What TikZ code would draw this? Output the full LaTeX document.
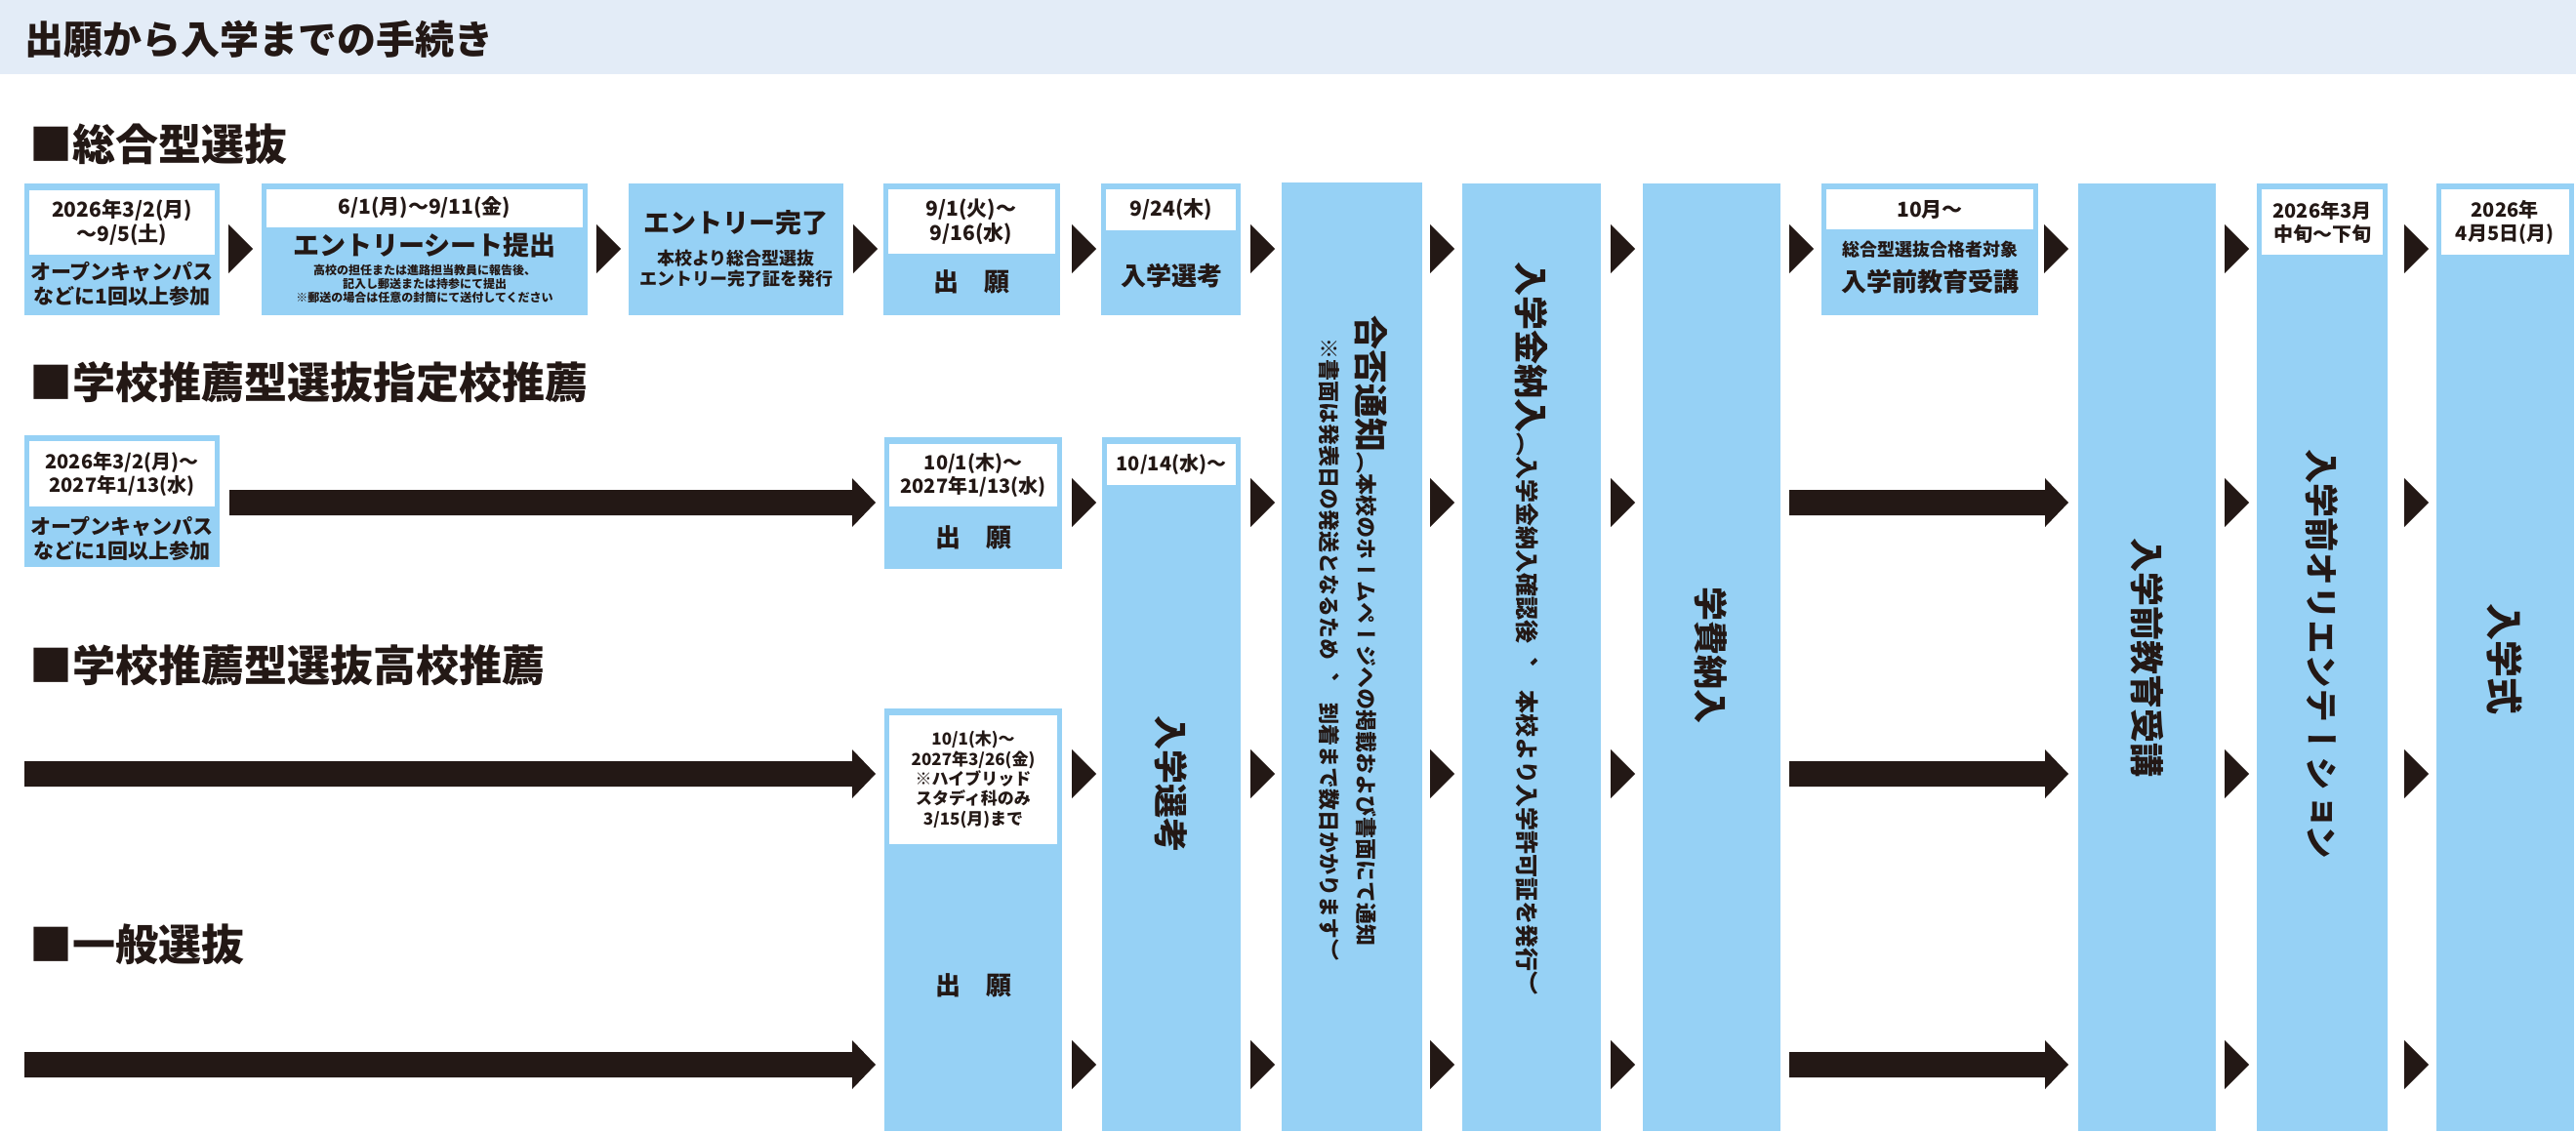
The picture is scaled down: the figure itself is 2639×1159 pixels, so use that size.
\documentclass[tikz,border=0pt]{standalone}
\usepackage{fontspec}
\setmainfont{Noto Sans CJK JP}
\newfontfamily\vjp[Vertical=RotatedGlyphs]{Noto Sans CJK JP}
\definecolor{bl}{HTML}{96D1F5}
\definecolor{dk}{HTML}{231815}
\definecolor{band}{HTML}{E3ECF7}
\newcommand\fs[1]{\fontsize{#1}{\dimexpr#1pt*6/5\relax}\selectfont}
\newcommand\mytri[2]{\fill[dk] (#1,#2-25) -- (#1+25,#2) -- (#1,#2+25) -- cycle;}
\newcommand\myarr[4]{\fill[dk] (#1,#4-13) -- (#2,#4-13) -- (#2,#4-25) -- (#3,#4) -- (#2,#4+25) -- (#2,#4+13) -- (#1,#4+13) -- cycle;}
\newcommand\mybox[4]{\fill[bl] (#1,#2) rectangle (#3,#4);}
\newcommand\mywhite[4]{\fill[white] (#1+5,#2) rectangle (#3-5,#4);}
\tikzset{
 t/.style={align=center,inner sep=0pt,font=\bfseries,text=dk},
 v/.style={rotate=-90,anchor=west,inner sep=0pt,font=\vjp\bfseries,text=dk},
 head/.style={anchor=west,inner sep=0pt,font=\fs{44}\bfseries,text=dk}
}
\begin{document}
\begin{tikzpicture}[x=1pt,y=-1pt]
\useasboundingbox (0,0) rectangle (2639,1159);
\fill[band] (0,0) rectangle (2639,76);
\node[anchor=west,inner sep=0pt,font=\fs{40}\bfseries,text=dk] (title) at (25,40) {出願から入学までの手続き};
\node[head] (h1) at (30,148) {■総合型選抜};
\node[head] (h2) at (30,392) {■学校推薦型選抜指定校推薦};
\node[head] (h3) at (30,682) {■学校推薦型選抜高校推薦};
\node[head] (h4) at (30,968) {■一般選抜};
% row1 boxes
\mybox{25}{188}{225}{323}\mywhite{25}{195}{225}{261}
\node[t,font=\fs{21}\bfseries] (r1a) at (125,228) {2026年3/2(月)\\～9/5(土)};
\node[t,font=\fs{21}\bfseries] (r1b) at (125,291) {オープンキャンパス\\などに1回以上参加};
\mybox{268}{188}{602}{323}\mywhite{268}{194}{602}{233}
\node[t,font=\fs{21}\bfseries] (r2a) at (435,213) {6/1(月)～9/11(金)};
\node[t,font=\fs{27}\bfseries] (r2b) at (435,251) {エントリーシート提出};
\node[t,font=\fs{12}\bfseries] (r2c) at (435,291) {高校の担任または進路担当教員に報告後、\\記入し郵送または持参にて提出\\※郵送の場合は任意の封筒にて送付してください};
\mybox{644}{188}{864}{323}
\node[t,font=\fs{27}\bfseries] (r3a) at (754,228) {エントリー完了};
\node[t,font=\fs{18}\bfseries] (r3b) at (754,275) {本校より総合型選抜\\エントリー完了証を発行};
\mybox{905}{188}{1086}{323}\mywhite{905}{194}{1086}{260}
\node[t,font=\fs{21}\bfseries] (r4a) at (995,227) {9/1(火)～\\9/16(水)};
\node[t,font=\fs{26}\bfseries] (r4b) at (995,289) {出　願};
\mybox{1128}{188}{1271}{323}\mywhite{1128}{194}{1271}{236}
\node[t,font=\fs{21}\bfseries] (r5a) at (1200,215) {9/24(木)};
\node[t,font=\fs{26}\bfseries] (r5b) at (1200,283) {入学選考};
\mybox{1866}{188}{2088}{323}\mywhite{1866}{194}{2088}{235}
\node[t,font=\fs{21}\bfseries] (r6a) at (1977,215) {10月～};
\node[t,font=\fs{18}\bfseries] (r6b) at (1977,256) {総合型選抜合格者対象};
\node[t,font=\fs{26}\bfseries] (r6c) at (1977,289) {入学前教育受講};
% columns
\mybox{1313}{187}{1457}{1159}
\mybox{1498}{188}{1640}{1159}
\mybox{1683}{188}{1824}{1159}
\mybox{2129}{188}{2270}{1159}
\mybox{2312}{188}{2446}{1159}\mywhite{2312}{194}{2446}{261}
\mybox{2496}{188}{2637}{1159}\mywhite{2496}{194}{2637}{261}
\node[t,font=\fs{20}\bfseries] (o1) at (2379,228) {2026年3月\\中旬～下旬};
\node[t,font=\fs{20}\bfseries] (o2) at (2566,228) {2026年\\4月5日(月)};
% row2
\mybox{25}{446}{225}{581}\mywhite{25}{452}{225}{519}
\node[t,font=\fs{20}\bfseries] (s1) at (125,486) {2026年3/2(月)～\\2027年1/13(水)};
\node[t,font=\fs{21}\bfseries] (s2) at (125,552) {オープンキャンパス\\などに1回以上参加};
\mybox{906}{448}{1088}{583}\mywhite{906}{455}{1088}{519}
\node[t,font=\fs{20}\bfseries] (s3) at (997,487) {10/1(木)～\\2027年1/13(水)};
\node[t,font=\fs{26}\bfseries] (s4) at (997,551) {出　願};
\mybox{1129}{448}{1271}{1159}\mywhite{1129}{455}{1271}{497}
\node[t,font=\fs{20}\bfseries] (s5) at (1200,476) {10/14(水)～};
% row3
\mybox{906}{726}{1088}{1159}\mywhite{906}{733}{1088}{865}
\node[t,font=\fs{17}\bfseries] (u1) at (997,799) {10/1(木)～\\2027年3/26(金)\\※ハイブリッド\\スタディ科のみ\\3/15(月)まで};
\node[t,font=\fs{26}\bfseries] (u2) at (997,1010) {出　願};
% vertical texts
\node[v] (w1) at (1200,733) {\fs{35}入学選考};
\node[v] (w2) at (1405,323) {{\fs{35}合否通知}{\fs{22}（本校のホームページへの掲載および書面にて通知}};
\node[v] (w3) at (1362,346) {\fs{22}※書面は発表日の発送となるため、　到着まで数日かかります）};
\node[v] (w4) at (1569,268) {{\fs{35}入学金納入}{\fs{24}（入学金納入確認後、　本校より入学許可証を発行）}};
\node[v] (w5) at (1753,601) {\fs{35}学費納入};
\node[v] (w6) at (2200,551) {\fs{35}入学前教育受講};
\node[v] (w7) at (2379,460) {\fs{35}入学前オリエンテーション};
\node[v] (w8) at (2566,618) {\fs{38}入学式};
% triangles row1
\foreach \x in {234,611,874,1098,1281,1465,1650,1833,2094,2279,2463} {\mytri{\x}{255}}
\foreach \y in {515,793,1091} {
 \foreach \x in {1098,1281,1465,1650,2279,2463} {\mytri{\x}{\y}}
 \myarr{1833}{2095}{2119}{\y}
}
\myarr{235}{873}{897}{515}
\myarr{25}{873}{897}{793}
\myarr{25}{873}{897}{1091}
\end{tikzpicture}
\end{document}
